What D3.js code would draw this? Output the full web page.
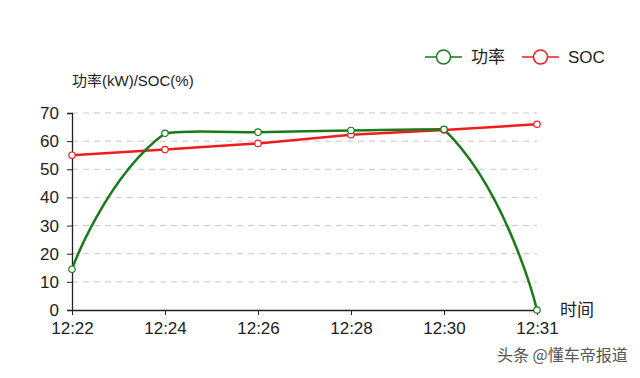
<!DOCTYPE html>
<html><head><meta charset="utf-8">
<script src="https://cdn.jsdelivr.net/npm/d3@7/dist/d3.min.js"></script>
<style>
html,body{margin:0;padding:0;background:#fff;}
text{font-family:"Liberation Sans",Arial,"Noto Sans CJK SC",sans-serif;}
</style></head>
<body>
<svg id="c" width="640" height="378"></svg>
<script>
const categories = ["12:22","12:24","12:26","12:28","12:30","12:31"];
const powerValues = [14.5, 62.8, 63.2, 63.8, 64.2, 0];
const socValues = [55, 57, 59.2, 62.3, 64, 66];
const yTicks = [0,10,20,30,40,50,60,70];
const seriesNames = ["功率","SOC"];
const seriesColors = ["#1a7a1a","#f01c1c"];

// Custom d3 curve: smooth bezier with bounding-box constraint
function SmoothCurve(context){ this._context = context; }
SmoothCurve.prototype = {
  areaStart(){ this._line = 0; }, areaEnd(){ this._line = NaN; },
  lineStart(){ this._pts = []; },
  point(x,y){ this._pts.push([+x,+y]); },
  lineEnd(){
    const p = this._pts, n = p.length, s = 0.5, ctx = this._context;
    if (!n) return;
    const minX = d3.min(p,d=>d[0]), maxX = d3.max(p,d=>d[0]);
    const minY = d3.min(p,d=>d[1]), maxY = d3.max(p,d=>d[1]);
    const clamp = c => [Math.max(minX,Math.min(maxX,c[0])), Math.max(minY,Math.min(maxY,c[1]))];
    const cps = [];
    for (let i=0;i<n;i++){
      if (i===0 || i===n-1){ cps.push([p[i].slice(), p[i].slice()]); continue; }
      const pr = p[i-1], nx = p[i+1], c = p[i];
      const vx = (nx[0]-pr[0])*s, vy = (nx[1]-pr[1])*s;
      let d0 = Math.hypot(c[0]-pr[0], c[1]-pr[1]), d1 = Math.hypot(c[0]-nx[0], c[1]-nx[1]);
      const sum = d0+d1; if (sum){ d0/=sum; d1/=sum; }
      cps.push([clamp([c[0]-vx*d0, c[1]-vy*d0]), clamp([c[0]+vx*d1, c[1]+vy*d1])]);
    }
    ctx.moveTo(p[0][0], p[0][1]);
    for (let i=0;i<n-1;i++){
      const a = cps[i][1], b = cps[i+1][0];
      ctx.bezierCurveTo(a[0],a[1],b[0],b[1],p[i+1][0],p[i+1][1]);
    }
  }
};
const smoothCurve = context => new SmoothCurve(context);

(function(){
const svg = d3.select("#c");
const font = '"Liberation Sans",Arial,"Noto Sans CJK SC",sans-serif';
const pLeft = 72, pRight = 537, pTop = 113, pBottom = 310;

const x = d3.scalePoint().domain(categories).range([pLeft, pRight]);
const y = d3.scaleLinear().domain([0,70]).range([pBottom, pTop]);

svg.append("g").selectAll("line").data(yTicks.filter(d=>d>0)).join("line")
  .attr("x1", pLeft).attr("x2", pRight)
  .attr("y1", d=>y(d)).attr("y2", d=>y(d))
  .attr("stroke","#c8c8c8").attr("stroke-width",1).attr("stroke-dasharray","6,5");

const ya = svg.append("g").attr("transform",`translate(${pLeft},0)`)
  .call(d3.axisLeft(y).tickValues(yTicks).tickSize(5).tickPadding(8));
ya.select(".domain").attr("stroke","#222").attr("stroke-width",1.3);
ya.selectAll(".tick line").attr("stroke","#222");
ya.selectAll("text").attr("fill","#222").style("font-size","17px").style("font-family",font);

const xa = svg.append("g").attr("transform",`translate(0,${pBottom})`)
  .call(d3.axisBottom(x).tickSize(5).tickPadding(7).tickSizeOuter(0));
xa.select(".domain").attr("stroke","#222").attr("stroke-width",1.3);
xa.selectAll(".tick line").attr("stroke","#222");
xa.selectAll("text").attr("fill","#222").style("font-size","17px").style("font-family",font);

svg.append("text").attr("x",72).attr("y",86).text("功率(kW)/SOC(%)")
  .attr("fill","#222").style("font-size","15px");
svg.append("text").attr("x",560).attr("y",316).text("时间")
  .attr("fill","#222").style("font-size","17px");

const powerLine = d3.line().x((d,i)=>x(categories[i])).y(d=>y(d)).curve(smoothCurve);
const socLine = d3.line().x((d,i)=>x(categories[i])).y(d=>y(d));

svg.append("path").datum(socValues).attr("d",socLine)
  .attr("fill","none").attr("stroke",seriesColors[1]).attr("stroke-width",2.5);
svg.append("path").datum(powerValues).attr("d",powerLine)
  .attr("fill","none").attr("stroke",seriesColors[0]).attr("stroke-width",2.5);

svg.append("g").selectAll("circle").data(socValues).join("circle")
  .attr("cx",(d,i)=>x(categories[i])).attr("cy",d=>y(d)).attr("r",3.2)
  .attr("fill","#fff").attr("stroke",seriesColors[1]).attr("stroke-width",1.2);
svg.append("g").selectAll("circle").data(powerValues).join("circle")
  .attr("cx",(d,i)=>x(categories[i])).attr("cy",d=>y(d)).attr("r",3.2)
  .attr("fill","#fff").attr("stroke",seriesColors[0]).attr("stroke-width",1.2);

const legX = [425, 522];
seriesNames.forEach((n,i)=>{
  const g = svg.append("g").attr("transform",`translate(${legX[i]},57)`);
  g.append("line").attr("x1",0).attr("x2",37).attr("y1",0).attr("y2",0)
    .attr("stroke",seriesColors[i]).attr("stroke-width",1.5);
  g.append("circle").attr("cx",18.5).attr("cy",0).attr("r",7)
    .attr("fill","#fff").attr("stroke",seriesColors[i]).attr("stroke-width",1.5);
  g.append("text").attr("x",46).attr("y",6).text(n).attr("fill","#222").style("font-size","17px");
});

svg.append("text").attr("x",497).attr("y",361).text("头条 @懂车帝报道")
  .attr("fill","#555").style("font-size","16px").style("font-family",'"Noto Sans CJK SC",sans-serif');
})();
</script>
</body></html>
